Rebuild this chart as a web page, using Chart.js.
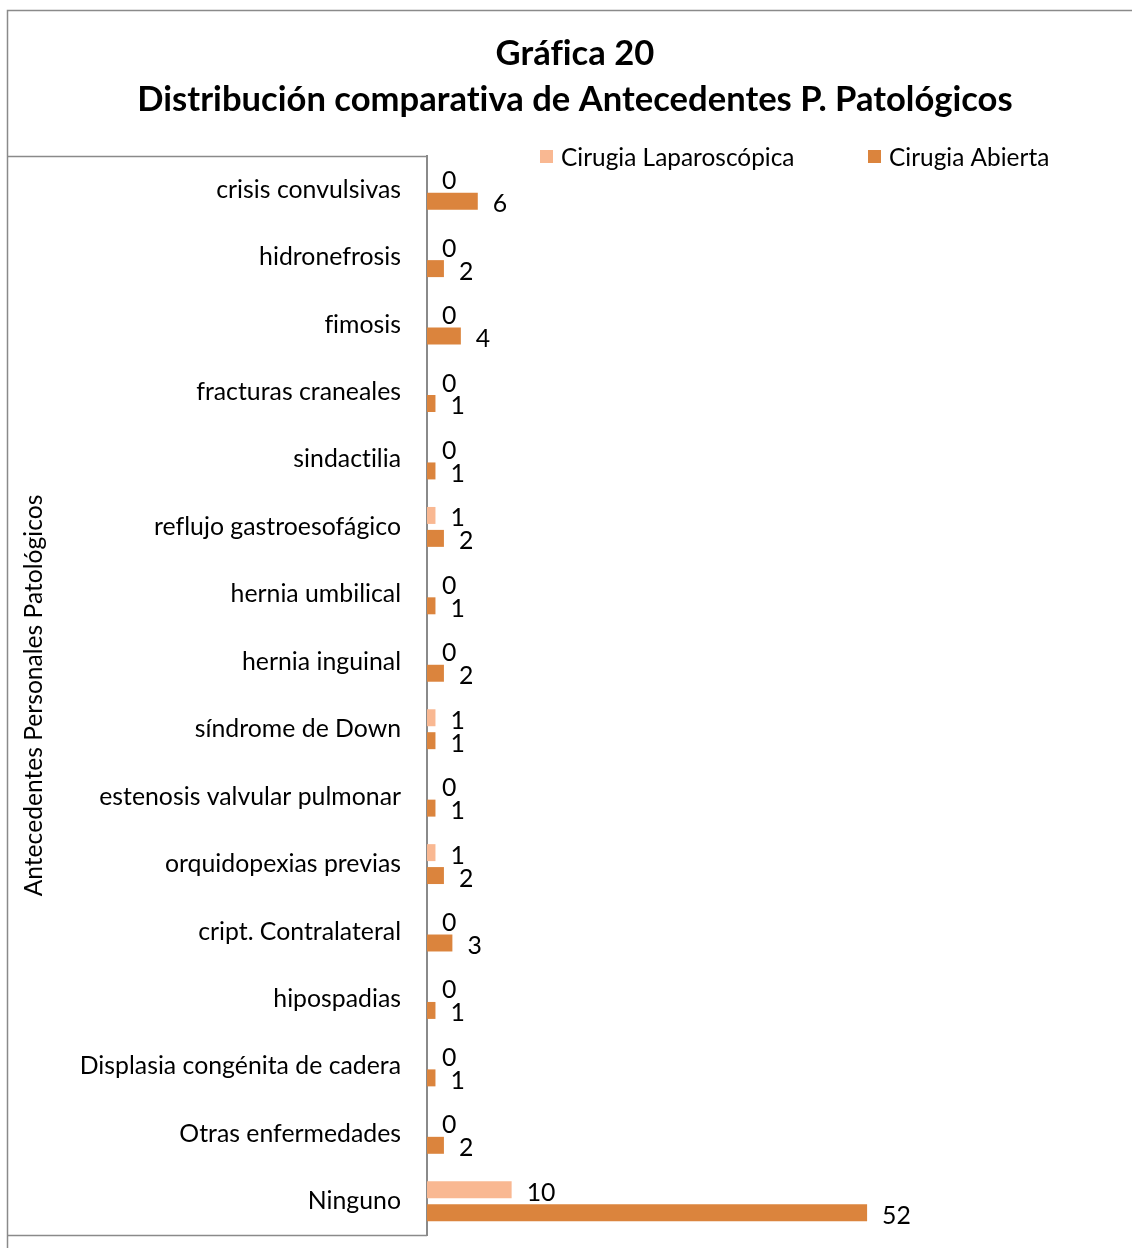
<!DOCTYPE html>
<html>
<head>
<meta charset="utf-8">
<script src="https://cdn.jsdelivr.net/npm/chart.js@4"></script>
<style>
  html, body { margin: 0; padding: 0; background: #fff; }
  canvas { display: block; }
</style>
</head>
<body>
<canvas id="c" width="1132" height="1248"></canvas>
<script>
const titleLines = ['Gráfica 20', 'Distribución comparativa de Antecedentes P. Patológicos'];
const axisTitle = 'Antecedentes Personales Patológicos';
const categories = [
  'crisis convulsivas', 'hidronefrosis', 'fimosis', 'fracturas craneales', 'sindactilia',
  'reflujo gastroesofágico', 'hernia umbilical', 'hernia inguinal', 'síndrome de Down',
  'estenosis valvular pulmonar', 'orquidopexias previas', 'cript. Contralateral',
  'hipospadias', 'Displasia congénita de cadera', 'Otras enfermedades', 'Ninguno'
];
const seriesNames = ['Cirugia Laparoscópica', 'Cirugia Abierta'];
const laparoscopica = [0, 0, 0, 0, 0, 1, 0, 0, 1, 0, 1, 0, 0, 0, 0, 10];
const abierta = [6, 2, 4, 1, 1, 2, 1, 2, 1, 1, 2, 3, 1, 1, 2, 52];
const colors = ['#F9B892', '#DB843D'];

const FAMILY = 'Lato, "Open Sans", sans-serif';
const mctx = document.createElement('canvas').getContext('2d');
function fitSize(text, target, weight) {
  mctx.font = weight + ' 100px ' + FAMILY;
  const w = mctx.measureText(text).width;
  return Math.round(100 * target / w * 10) / 10;
}
const tickSize = fitSize('estenosis valvular pulmonar', 302, 'normal');
const titleSize = fitSize(titleLines[1], 875, 'bold');
const legendSize = fitSize(seriesNames[0], 233, 'normal');
const axisTitleSize = fitSize(axisTitle, 402, 'normal');

const decor = {
  id: 'decor',
  beforeDraw(chart) {
    const ctx = chart.ctx;
    try { ctx.letterSpacing = '0.01px'; } catch (e) {}
    const a = chart.chartArea;
    ctx.save();
    ctx.strokeStyle = '#8a8a8a';
    ctx.lineWidth = 1.5;
    ctx.beginPath();
    ctx.moveTo(7.5, 1248); ctx.lineTo(7.5, 10.5); ctx.lineTo(1132, 10.5);
    ctx.stroke();
    ctx.beginPath();
    ctx.moveTo(7.5, a.top + 0.5); ctx.lineTo(a.left, a.top + 0.5);
    ctx.moveTo(7.5, a.bottom + 0.5); ctx.lineTo(a.left, a.bottom + 0.5);
    ctx.stroke();
    ctx.restore();
  },
  afterDraw(chart) {
    const ctx = chart.ctx;
    const a = chart.chartArea;
    ctx.save();
    ctx.fillStyle = '#000';
    ctx.textAlign = 'center';
    ctx.textBaseline = 'middle';
    ctx.font = 'bold ' + titleSize + 'px ' + FAMILY;
    ctx.fillText(titleLines[0], 575, 54);
    ctx.fillText(titleLines[1], 575, 100);
    // legend
    ctx.font = legendSize + 'px ' + FAMILY;
    ctx.textAlign = 'left';
    const lx = [540, 868];
    chart.data.datasets.forEach((ds, i) => {
      ctx.fillStyle = ds.backgroundColor;
      ctx.fillRect(lx[i], 150, 13, 13);
      ctx.fillStyle = '#000';
      ctx.fillText(ds.label, lx[i] + 21, 158);
    });
    // axis title
    ctx.translate(34, (a.top + a.bottom) / 2);
    ctx.rotate(-Math.PI / 2);
    ctx.textAlign = 'center';
    ctx.font = axisTitleSize + 'px ' + FAMILY;
    ctx.fillText(axisTitle, 0, 0);
    ctx.restore();
  },
  afterDatasetsDraw(chart) {
    const ctx = chart.ctx;
    ctx.save();
    ctx.fillStyle = '#000';
    ctx.font = tickSize + 'px ' + FAMILY;
    ctx.textAlign = 'left';
    ctx.textBaseline = 'middle';
    chart.data.datasets.forEach((ds, di) => {
      chart.getDatasetMeta(di).data.forEach((el, i) => {
        ctx.fillText(String(ds.data[i]), el.x + 15, el.y + 3);
      });
    });
    ctx.restore();
  }
};

new Chart(document.getElementById('c'), {
  type: 'bar',
  data: {
    labels: categories,
    datasets: [
      { label: seriesNames[0], data: laparoscopica, backgroundColor: colors[0] },
      { label: seriesNames[1], data: abierta, backgroundColor: colors[1] }
    ]
  },
  options: {
    indexAxis: 'y',
    responsive: false,
    animation: false,
    devicePixelRatio: 1,
    layout: { padding: { top: 156, bottom: 13, left: 0, right: 0 } },
    datasets: { bar: { barPercentage: 0.74, categoryPercentage: 0.68 } },
    plugins: { legend: { display: false }, tooltip: { enabled: false }, title: { display: false } },
    scales: {
      x: { display: false, min: 0, max: 83.3 },
      y: {
        grid: { display: false, drawTicks: false },
        border: { display: true, color: '#8a8a8a', width: 2 },
        ticks: { autoSkip: false, padding: 26, color: '#000', font: { family: FAMILY, size: tickSize } },
        afterFit(scale) { scale.width = 427; scale.paddingTop = 0; scale.paddingBottom = 0; }
      }
    }
  },
  plugins: [decor]
});
</script>
</body>
</html>
